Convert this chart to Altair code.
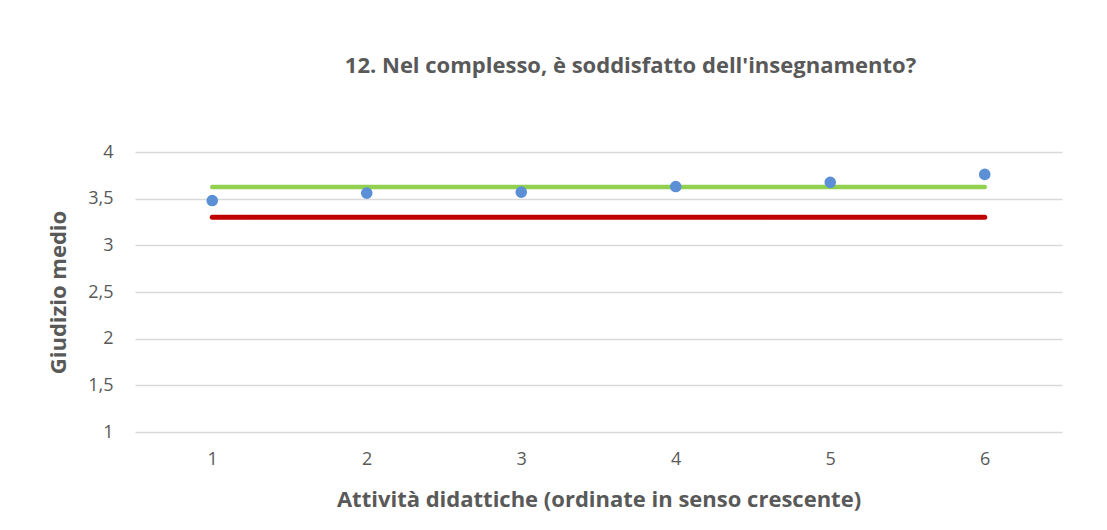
import altair as alt
import pandas as pd

activities = [1, 2, 3, 4, 5, 6]
scores = [3.48, 3.56, 3.57, 3.63, 3.675, 3.76]
green_x = [1, 6]
green_y = [3.625, 3.625]
red_x = [1, 6]
red_y = [3.30, 3.30]
y_ticks = [1, 1.5, 2, 2.5, 3, 3.5, 4]

pts = pd.DataFrame({"x": activities, "y": scores})
green = pd.DataFrame({"x": green_x, "y": green_y})
red = pd.DataFrame({"x": red_x, "y": red_y})

FONT = "Open Sans"
GRAY = "#595959"

xscale = alt.Scale(domain=[0.5, 6.5], nice=False, zero=False)
yscale = alt.Scale(domain=[1, 4], nice=False, zero=False)

xaxis = alt.Axis(values=activities, format="d", grid=False, domain=False, ticks=False,
                 labelFontSize=18, labelColor=GRAY, labelFont=FONT, labelPadding=18,
                 title="Attività didattiche (ordinate in senso crescente)",
                 titleFont=FONT, titleFontSize=22, titleFontWeight="bold",
                 titleColor=GRAY, titlePadding=21)
yaxis = alt.Axis(values=y_ticks, grid=True, gridColor="#d9d9d9", gridWidth=1.5,
                 domain=False, ticks=False,
                 labelExpr="replace(toString(datum.value), '.', ',')",
                 labelFontSize=18, labelColor=GRAY, labelFont=FONT, labelPadding=22,
                 title="Giudizio medio", titleFont=FONT, titleFontSize=22,
                 titleFontWeight="bold", titleColor=GRAY, titlePadding=17)

base_red = alt.Chart(red).mark_line(color="#c00000", strokeWidth=5, strokeCap="round").encode(
    x=alt.X("x:Q", scale=xscale, axis=xaxis), y=alt.Y("y:Q", scale=yscale, axis=yaxis))
base_green = alt.Chart(green).mark_line(color="#92d050", strokeWidth=4.5, strokeCap="round").encode(
    x=alt.X("x:Q", scale=xscale), y=alt.Y("y:Q", scale=yscale))
points = alt.Chart(pts).mark_circle(color="#5b8fd6", size=135, opacity=1).encode(
    x=alt.X("x:Q", scale=xscale), y=alt.Y("y:Q", scale=yscale))

chart = alt.layer(base_red, base_green, points).properties(
    width=927, height=280,
    background="white",
    autosize=alt.AutoSizeParams(type="none"),
    padding={"left": 127, "top": 144, "right": 37, "bottom": 90},
    title=alt.TitleParams("12. Nel complesso, è soddisfatto dell'insegnamento?",
                          font=FONT, fontSize=22, fontWeight="bold", color=GRAY,
                          anchor="middle", dx=32, offset=65),
).configure_view(strokeWidth=0, strokeOpacity=0)

chart.save("out.html", embed_options={"renderer": "svg", "actions": False})
